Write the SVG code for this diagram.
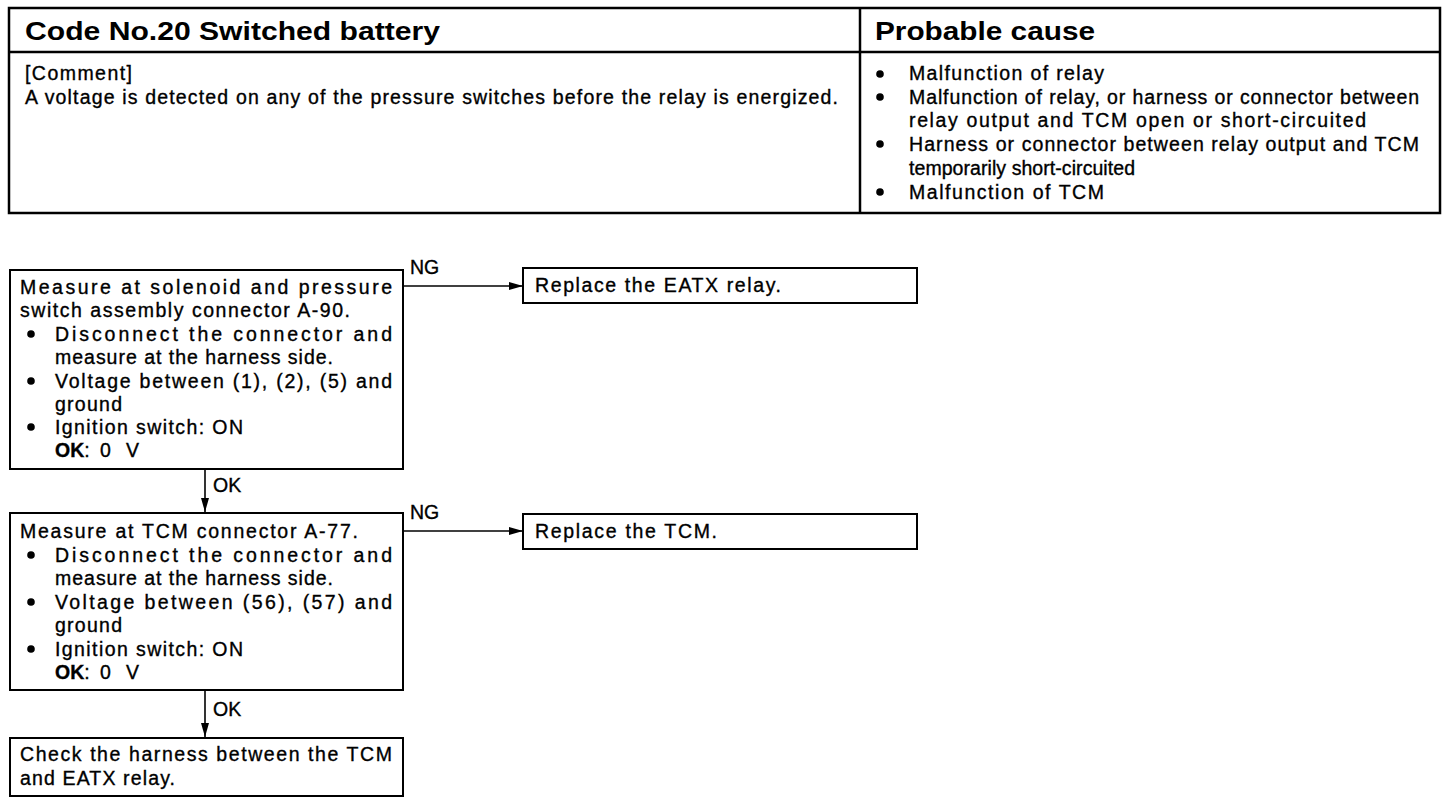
<svg xmlns="http://www.w3.org/2000/svg" width="1456" height="802" viewBox="0 0 1456 802">
<style>
text{font-family:"Liberation Sans",Arial,sans-serif;fill:#000}
.h{font-size:26px;font-weight:bold}
.t{font-size:19.5px;stroke:#000;stroke-width:0.35}
.box{fill:#fff;stroke:#000;stroke-width:2}
.tbl{fill:none;stroke:#000;stroke-width:2.5}
.c{stroke:#000;stroke-width:1.6;fill:none}
.dot{fill:#000}
</style>
<defs>
<marker id="ah" viewBox="0 0 14 8" refX="14" refY="4" markerWidth="14" markerHeight="8" markerUnits="userSpaceOnUse" orient="auto">
<path d="M0,0 L14,4 L0,8 Z" fill="#000"/>
</marker>
</defs>
<rect width="1456" height="802" fill="#fff"/>

<g id="table">
<rect class="tbl" x="9" y="8" width="1431" height="205"/>
<line class="tbl" x1="9" y1="52" x2="1440" y2="52"/>
<line class="tbl" x1="860" y1="8" x2="860" y2="213"/>
<text class="h" x="25" y="40" textLength="415" lengthAdjust="spacingAndGlyphs">Code No.20 Switched battery</text>
<text class="h" x="875" y="40" textLength="220" lengthAdjust="spacingAndGlyphs">Probable cause</text>
<text class="t" x="25" y="80" textLength="107" lengthAdjust="spacing">[Comment]</text>
<text class="t" x="25" y="104" textLength="813" lengthAdjust="spacing">A voltage is detected on any of the pressure switches before the relay is energized.</text>
<circle class="dot" cx="880" cy="74" r="3.8"/>
<circle class="dot" cx="880" cy="97" r="3.8"/>
<circle class="dot" cx="880" cy="144" r="3.8"/>
<circle class="dot" cx="880" cy="192" r="3.8"/>
<text class="t" x="909" y="80" textLength="195" lengthAdjust="spacing">Malfunction of relay</text>
<text class="t" x="909" y="104" textLength="510" lengthAdjust="spacing">Malfunction of relay, or harness or connector between</text>
<text class="t" x="909" y="127" textLength="457" lengthAdjust="spacing">relay output and TCM open or short-circuited</text>
<text class="t" x="909" y="151" textLength="510" lengthAdjust="spacing">Harness or connector between relay output and TCM</text>
<text class="t" x="909" y="175" textLength="226" lengthAdjust="spacing">temporarily short-circuited</text>
<text class="t" x="909" y="199" textLength="195" lengthAdjust="spacing">Malfunction of TCM</text>
</g>

<g id="connectors">
<line class="c" x1="403" y1="286" x2="523" y2="286" marker-end="url(#ah)"/>
<text class="t" x="410" y="274">NG</text>
<line class="c" x1="205" y1="469" x2="205" y2="512" marker-end="url(#ah)"/>
<text class="t" x="213" y="492">OK</text>
<line class="c" x1="403" y1="531" x2="523" y2="531" marker-end="url(#ah)"/>
<text class="t" x="410" y="519">NG</text>
<line class="c" x1="205" y1="690" x2="205" y2="737" marker-end="url(#ah)"/>
<text class="t" x="213" y="716">OK</text>
</g>

<g id="step1">
<rect class="box" x="10" y="270" width="393" height="199"/>
<text class="t" x="20" y="294" textLength="372" lengthAdjust="spacing">Measure at solenoid and pressure</text>
<text class="t" x="20" y="317" textLength="330" lengthAdjust="spacing">switch assembly connector A-90.</text>
<circle class="dot" cx="31" cy="334" r="3.8"/>
<text class="t" x="55" y="341" textLength="337" lengthAdjust="spacing">Disconnect the connector and</text>
<text class="t" x="55" y="364" textLength="278" lengthAdjust="spacing">measure at the harness side.</text>
<circle class="dot" cx="31" cy="381" r="3.8"/>
<text class="t" x="55" y="388" textLength="337" lengthAdjust="spacing">Voltage between (1), (2), (5) and</text>
<text class="t" x="55" y="411" textLength="67" lengthAdjust="spacing">ground</text>
<circle class="dot" cx="31" cy="427" r="3.8"/>
<text class="t" x="55" y="434" textLength="188" lengthAdjust="spacing">Ignition switch: ON</text>
<text class="t" x="55" y="457"><tspan font-weight="bold">OK</tspan>:<tspan x="100">0</tspan><tspan x="126">V</tspan></text>
</g>

<g id="ng1">
<rect class="box" x="523" y="268" width="394" height="35"/>
<text class="t" x="535" y="292" textLength="246" lengthAdjust="spacing">Replace the EATX relay.</text>
</g>

<g id="step2">
<rect class="box" x="10" y="513" width="393" height="177"/>
<text class="t" x="20" y="538" textLength="338" lengthAdjust="spacing">Measure at TCM connector A-77.</text>
<circle class="dot" cx="31" cy="555" r="3.8"/>
<text class="t" x="55" y="562" textLength="337" lengthAdjust="spacing">Disconnect the connector and</text>
<text class="t" x="55" y="585" textLength="278" lengthAdjust="spacing">measure at the harness side.</text>
<circle class="dot" cx="31" cy="602" r="3.8"/>
<text class="t" x="55" y="609" textLength="337" lengthAdjust="spacing">Voltage between (56), (57) and</text>
<text class="t" x="55" y="632" textLength="67" lengthAdjust="spacing">ground</text>
<circle class="dot" cx="31" cy="649" r="3.8"/>
<text class="t" x="55" y="656" textLength="188" lengthAdjust="spacing">Ignition switch: ON</text>
<text class="t" x="55" y="679"><tspan font-weight="bold">OK</tspan>:<tspan x="100">0</tspan><tspan x="126">V</tspan></text>
</g>

<g id="ng2">
<rect class="box" x="523" y="514" width="394" height="35"/>
<text class="t" x="535" y="538" textLength="182" lengthAdjust="spacing">Replace the TCM.</text>
</g>

<g id="step3">
<rect class="box" x="10" y="738" width="393" height="58"/>
<text class="t" x="20" y="761" textLength="372" lengthAdjust="spacing">Check the harness between the TCM</text>
<text class="t" x="20" y="785" textLength="155" lengthAdjust="spacing">and EATX relay.</text>
</g>
</svg>
